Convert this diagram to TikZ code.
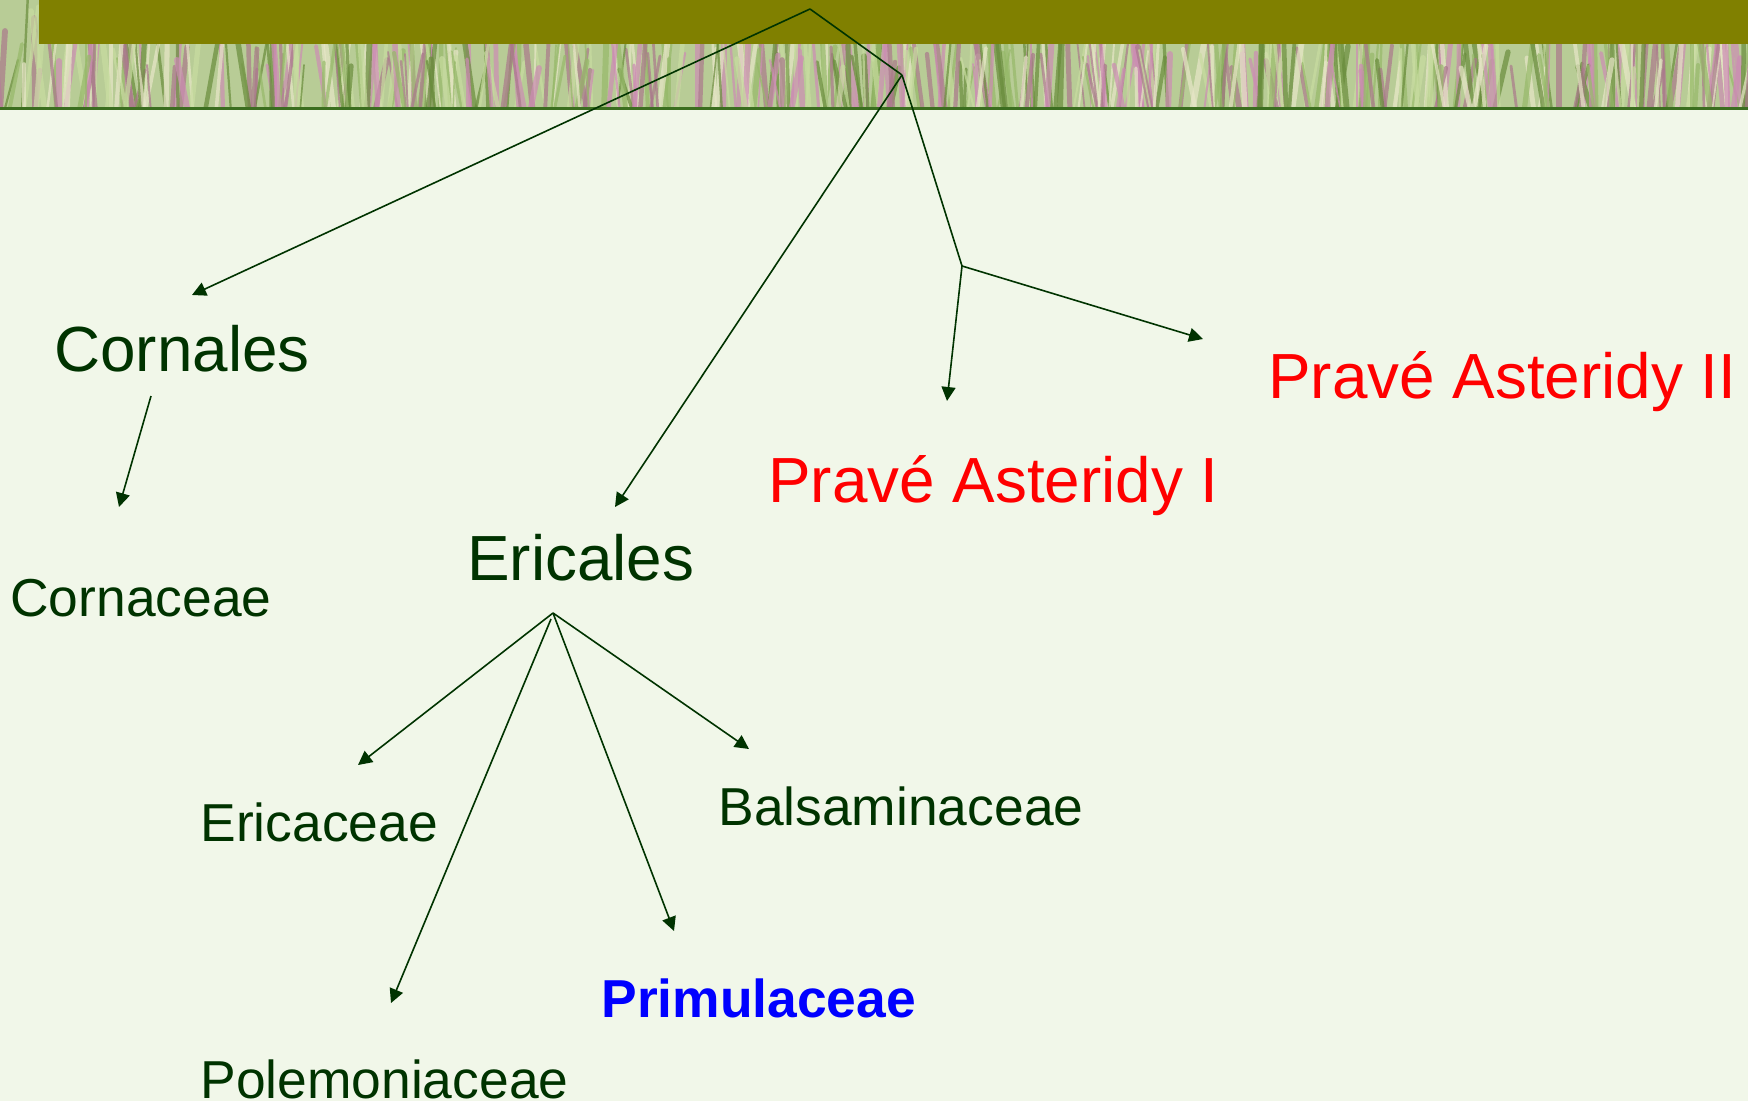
\documentclass[tikz,border=0pt]{standalone}
\usepackage{fontspec}
\setmainfont{Liberation Sans}
\usetikzlibrary{arrows.meta}
\definecolor{bg}{RGB}{241,247,233}
\definecolor{olive}{RGB}{128,128,0}
\definecolor{tx}{RGB}{0,51,0}
\definecolor{band}{RGB}{184,204,150}
\definecolor{bandline}{RGB}{60,110,32}
\definecolor{col1}{RGB}{200,220,160}
\definecolor{col2}{RGB}{150,185,105}
\definecolor{col3}{RGB}{105,140,60}
\definecolor{col4}{RGB}{205,140,180}
\definecolor{col5}{RGB}{170,120,140}
\definecolor{col6}{RGB}{232,230,200}
\definecolor{pred}{RGB}{255,0,0}
\definecolor{pblue}{RGB}{0,0,255}
\tikzset{
  big/.style={font=\fontsize{31.9pt}{36pt}\selectfont, text=tx, anchor=base west, inner sep=0pt},
  small/.style={font=\fontsize{26.7pt}{31pt}\selectfont, text=tx, anchor=base west, inner sep=0pt},
  conn/.style={draw=tx, line width=0.8pt},
  arr/.style={conn, -{Triangle[length=7pt,width=7pt]}},
}
\begin{document}
\begin{tikzpicture}[x=0.5pt,y=-0.5pt]
\useasboundingbox (0,0) rectangle (1748,1101);
\fill[bg] (0,0) rectangle (1748,1101);
% grass band
\fill[band] (0,0) rectangle (1748,108);
\begin{scope}
\clip (0,0) rectangle (1748,108);
\pgfmathsetseed{7}
\foreach \i in {1,...,600}{
  \pgfmathsetmacro{\xa}{random(0,1748)}
  \pgfmathsetmacro{\dx}{random(-14,14)}
  \pgfmathsetmacro{\yt}{random(-10,70)}
  \pgfmathrandominteger{\cc}{1}{6}
  \pgfmathsetmacro{\ww}{0.8+2.2*rnd}
  \draw[line width=\ww pt, col\cc, opacity=0.7, line cap=round] (\xa,112) -- (\xa+\dx,\yt);
}
\end{scope}
\fill[bandline] (0,107.5) rectangle (1748,110);
\fill[olive] (39,0) rectangle (1748,44);

% text nodes
\node[big] (cornales) at (54,371) {Cornales};
\node[small] (cornaceae) at (10,616) {Cornaceae};
\node[big] (ericales) at (467,580) {Ericales};
\node[small] (ericaceae) at (200,841) {Ericaceae};
\node[small] (polem) at (200,1098) {Polemoniaceae};
\node[small, font=\fontsize{26.7pt}{31pt}\selectfont\bfseries, text=pblue] (primul) at (601,1017) {Primulaceae};
\node[small] (balsam) at (718,825) {Balsaminaceae};
\node[big, text=pred] (pa1) at (768,502) {Pravé Asteridy I};
\node[big, text=pred] (pa2) at (1268,398) {Pravé Asteridy II};

% junctions and arrow tips
\coordinate (root) at (810,9);
\coordinate (j1) at (902,75);
\coordinate (j2) at (962,266);
\coordinate (tCornales) at (192,295);
\coordinate (tEricales) at (615,507);
\coordinate (tPa1) at (947,401);
\coordinate (tPa2) at (1203,339);
\coordinate (cStart) at (151,396);
\coordinate (tCornaceae) at (119,507);
\coordinate (ej) at (553,613);
\coordinate (ej2) at (551,619);
\coordinate (tEricaceae) at (358,765);
\coordinate (tPolem) at (391,1003);
\coordinate (tPrimul) at (674,931);
\coordinate (tBalsam) at (749,749);

% connectors
\draw[arr] (root) -- (tCornales);
\draw[conn] (root) -- (j1);
\draw[arr] (j1) -- (tEricales);
\draw[conn] (j1) -- (j2);
\draw[arr] (j2) -- (tPa1);
\draw[arr] (j2) -- (tPa2);
\draw[arr] (cStart) -- (tCornaceae);
\draw[arr] (ej) -- (tEricaceae);
\draw[arr] (ej2) -- (tPolem);
\draw[arr] (ej) -- (tPrimul);
\draw[arr] (ej) -- (tBalsam);
\end{tikzpicture}
\end{document}
